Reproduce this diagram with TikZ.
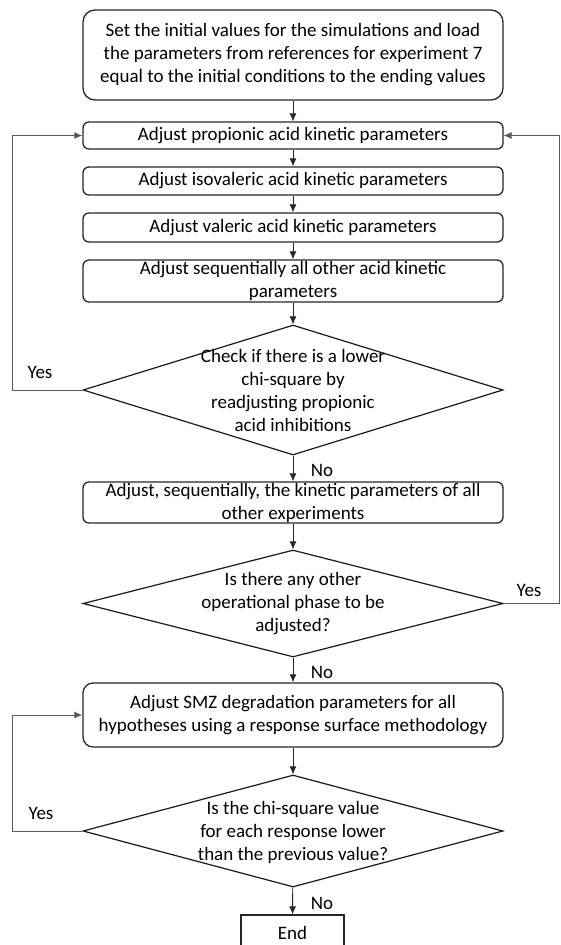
\documentclass[tikz,border=0pt]{standalone}
\usepackage{fontspec}
\setmainfont{Carlito}
\usetikzlibrary{shapes.geometric,arrows.meta}
\begin{document}
\begin{tikzpicture}[x=1pt,y=-1pt,
  font=\fontsize{19}{23}\selectfont,
  proc/.style={draw=black!85, line width=1.3pt, rounded corners=6pt, minimum width=420pt, inner sep=0pt, align=center},
  dec/.style={draw=black!90, line width=1.2pt, diamond, minimum width=420pt, inner sep=0pt},
  dtext/.style={align=center, inner sep=0pt},
  arr/.style={-{Latex[length=8pt,width=7pt]}, line width=0.9pt, draw=black!85},
  back/.style={arr, draw=black!65},
  lbl/.style={inner sep=0pt},
  endbox/.style={draw=black!85, line width=1.3pt, minimum width=103pt, minimum height=36pt, inner sep=0pt}]
\useasboundingbox (0,0) rectangle (560,945);
\coordinate (l1) at (12,0);
\coordinate (r1) at (559.5,0);

\node[proc, minimum height=90pt, rounded corners=12pt] (n1) at (293,55)
  {Set the initial values for the simulations and load\\the parameters from references for experiment 7\\equal to the initial conditions to the ending values};
\node[proc, minimum height=27pt] (n2) at (293,135.5) {Adjust propionic acid kinetic parameters};
\node[proc, minimum height=28pt] (n3) at (293,181) {Adjust isovaleric acid kinetic parameters};
\node[proc, minimum height=29pt] (n4) at (293,227.5) {Adjust valeric acid kinetic parameters};
\node[proc, minimum height=42pt] (n5) at (293,281) {Adjust sequentially all other acid kinetic\\parameters};
\node[dec, minimum height=130pt] (d1) at (293,390) {};
\node[dtext] (t1) at (293,390) {Check if there is a lower\\chi-square by\\readjusting propionic\\acid inhibitions};
\node[proc, minimum height=41pt] (n6) at (293,502.5) {Adjust, sequentially, the kinetic parameters of all\\other experiments};
\node[dec, minimum height=107pt] (d2) at (293,603.5) {};
\node[dtext] (t2) at (293,604) {Is there any other\\operational phase to be\\adjusted?};
\node[proc, minimum height=64pt, rounded corners=10pt] (n7) at (293,715) {Adjust SMZ degradation parameters for all\\hypotheses using a response surface methodology};
\node[dec, minimum height=112pt] (d3) at (293,831) {};
\node[dtext] (t3) at (293,832) {Is the chi-square value\\for each response lower\\than the previous value?};
\node[endbox] (e) at (292.5,933) {End};

\draw[arr] (n1) -- (n2);
\draw[arr] (n2) -- (n3);
\draw[arr] (n3) -- (n4);
\draw[arr] (n4) -- (n5);
\draw[arr] (n5) -- (d1);
\draw[arr] (d1) -- (n6);
\draw[arr] (n6) -- (d2);
\draw[arr] (d2) -- (n7);
\draw[arr] (n7) -- (d3);
\draw[arr] (d3) -- (e);

\draw[back] (d1.west) -- (d1.west -| l1) |- (n2.west);
\draw[back] (d2.east) -- (d2.east -| r1) |- (n2.east);
\draw[back] (d3.west) -- (d3.west -| l1) |- (n7.west);

\node[lbl] (y1) at (40,372) {Yes};
\node[lbl] (y2) at (529,590) {Yes};
\node[lbl] (y3) at (41,813) {Yes};
\node[lbl] (no1) at (322,470) {No};
\node[lbl] (no2) at (322,672) {No};
\node[lbl] (no3) at (322,903) {No};
\end{tikzpicture}
\end{document}
